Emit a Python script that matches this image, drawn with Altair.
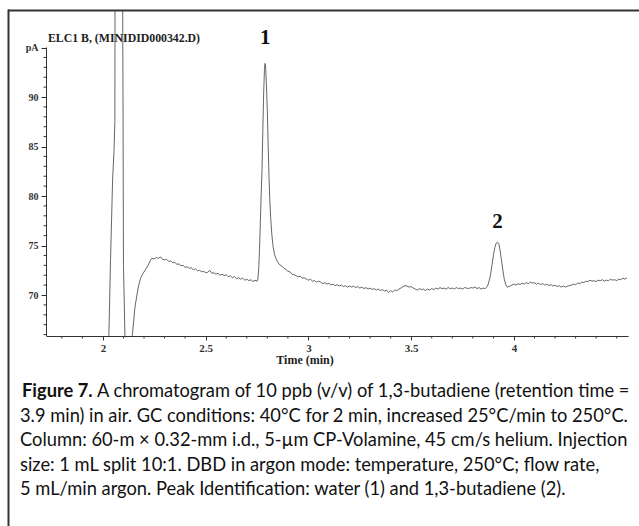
import altair as alt
import pandas as pd

# ---------------- data ----------------
# early (solvent/air) peak, off-scale
time_a = [2.022, 2.029, 2.037, 2.047, 2.054, 2.058, 2.059, 2.060, 2.094, 2.096,
          2.098, 2.099, 2.100, 2.104, 2.107, 2.112, 2.135, 2.143, 2.156, 2.172,
          2.183, 2.196, 2.208, 2.220, 2.230, 2.237]
signal_a = [60.0, 65.9, 73.5, 81.6, 84.6, 87.5, 100.0, 110.0, 110.0, 100.0,
            88.0, 80.0, 73.0, 69.0, 65.9, 60.0, 60.0, 65.9, 68.8, 70.8,
            71.7, 72.2, 72.6, 73.0, 73.45, 73.7]

# baseline before peak 1
time_b = [2.25, 2.26, 2.27, 2.28, 2.29, 2.30, 2.31, 2.32, 2.33, 2.34,
          2.35, 2.36, 2.37, 2.38, 2.39, 2.40, 2.41, 2.42, 2.43, 2.44,
          2.45, 2.46, 2.47, 2.48, 2.49, 2.50, 2.51, 2.52, 2.53, 2.54,
          2.55, 2.56, 2.57, 2.58, 2.59, 2.60, 2.61, 2.62, 2.63, 2.64,
          2.65, 2.66, 2.67, 2.68, 2.69, 2.70, 2.71, 2.72, 2.73, 2.74, 2.75]
signal_b = [73.65, 73.8, 73.7, 73.85, 73.6, 73.55, 73.6, 73.4, 73.45, 73.25,
            73.3, 73.1, 73.15, 72.95, 73.0, 72.8, 72.85, 72.7, 72.75, 72.55,
            72.65, 72.45, 72.5, 72.35, 72.4, 72.25, 72.3, 72.5, 72.2, 72.25,
            72.1, 72.2, 72.0, 72.1, 71.95, 72.05, 71.85, 71.95, 71.75, 71.85,
            71.65, 71.75, 71.6, 71.7, 71.5, 71.6, 71.45, 71.55, 71.35, 71.5, 71.4]

# peak 1 (water) and its tail
time_c = [2.754, 2.758, 2.762, 2.766, 2.770, 2.774, 2.778, 2.782, 2.786, 2.789,
          2.792, 2.796, 2.800, 2.804, 2.808, 2.812, 2.816, 2.822, 2.828, 2.835,
          2.842, 2.85, 2.86, 2.87, 2.88, 2.89, 2.90, 2.91, 2.92, 2.93,
          2.94, 2.95, 2.96, 2.97, 2.98, 2.99, 3.00, 3.01, 3.02, 3.03, 3.04, 3.05]
signal_c = [71.6, 72.6, 74.6, 77.3, 80.2, 82.5, 86.5, 90.3, 92.8, 93.4,
            92.9, 91.0, 88.6, 85.2, 82.0, 79.6, 77.9, 76.1, 74.9, 74.1,
            73.7, 73.35, 73.05, 72.95, 72.7, 72.6, 72.4, 72.35, 72.1, 72.05,
            71.95, 71.85, 71.9, 71.7, 71.75, 71.6, 71.5, 71.6, 71.4, 71.45, 71.3, 71.4]

# baseline between peaks
time_d = [3.06, 3.07, 3.08, 3.09, 3.10, 3.11, 3.12, 3.13, 3.14, 3.15,
          3.16, 3.17, 3.18, 3.19, 3.20, 3.21, 3.22, 3.23, 3.24, 3.25,
          3.26, 3.27, 3.28, 3.29, 3.30, 3.31, 3.32, 3.33, 3.34, 3.35,
          3.36, 3.37, 3.38, 3.39, 3.40, 3.41, 3.42, 3.43, 3.44, 3.45,
          3.46, 3.47, 3.48, 3.49, 3.50, 3.51, 3.52, 3.53, 3.54, 3.55,
          3.56, 3.57, 3.58, 3.59, 3.60, 3.61, 3.62, 3.63, 3.64, 3.65,
          3.66, 3.67, 3.68, 3.69, 3.70, 3.71, 3.72, 3.73, 3.74, 3.75,
          3.76, 3.77, 3.78, 3.79, 3.80, 3.81, 3.82, 3.83, 3.84, 3.85, 3.86, 3.87]
signal_d = [71.3, 71.15, 71.25, 71.1, 71.2, 71.0, 71.1, 70.95, 71.05, 70.9,
            71.0, 70.85, 70.95, 70.8, 70.9, 70.8, 70.9, 70.75, 70.85, 70.7,
            70.8, 70.65, 70.75, 70.6, 70.7, 70.55, 70.65, 70.5, 70.6, 70.45,
            70.55, 70.4, 70.5, 70.25, 70.45, 70.3, 70.5, 70.45, 70.6, 70.7,
            70.85, 70.95, 70.9, 70.8, 70.85, 70.7, 70.6, 70.5, 70.65, 70.55,
            70.6, 70.45, 70.6, 70.5, 70.65, 70.55, 70.7, 70.6, 70.75, 70.65,
            70.7, 70.6, 70.75, 70.65, 70.7, 70.6, 70.75, 70.65, 70.7, 70.6,
            70.75, 70.7, 70.65, 70.75, 70.7, 70.8, 70.65, 70.75, 70.6, 70.7, 70.65, 70.85]

# peak 2 (1,3-butadiene)
time_e = [3.875, 3.885, 3.893, 3.900, 3.907, 3.914, 3.920, 3.926, 3.932, 3.939,
          3.946, 3.953, 3.960, 3.967, 3.975, 3.985]
signal_e = [71.1, 71.9, 73.0, 74.0, 74.8, 75.25, 75.35, 75.2, 74.6, 73.6,
            72.5, 71.6, 71.05, 70.8, 70.85, 70.95]

# baseline after peak 2
time_f = [3.99, 4.00, 4.01, 4.02, 4.03, 4.04, 4.05, 4.06, 4.07, 4.08,
          4.09, 4.10, 4.11, 4.12, 4.13, 4.14, 4.15, 4.16, 4.17, 4.18,
          4.19, 4.20, 4.21, 4.22, 4.23, 4.24, 4.25, 4.26, 4.27, 4.28,
          4.29, 4.30, 4.31, 4.32, 4.33, 4.34, 4.35, 4.36, 4.37, 4.38,
          4.39, 4.40, 4.41, 4.42, 4.43, 4.44, 4.45, 4.46, 4.47, 4.48,
          4.49, 4.50, 4.51, 4.52, 4.53, 4.54, 4.55]
signal_f = [71.0, 71.1, 71.0, 71.15, 71.05, 71.2, 71.1, 71.25, 71.15, 71.3,
            71.2, 71.25, 71.1, 71.2, 71.05, 71.15, 71.0, 71.1, 70.95, 71.05,
            70.9, 71.0, 70.85, 70.95, 70.8, 70.9, 70.8, 70.9, 70.95, 71.0,
            71.1, 71.05, 71.2, 71.15, 71.3, 71.25, 71.4, 71.35, 71.5, 71.4,
            71.45, 71.35, 71.5, 71.45, 71.55, 71.4, 71.5, 71.45, 71.6, 71.5,
            71.55, 71.45, 71.6, 71.55, 71.7, 71.6, 71.75]

time_min = time_a + time_b + time_c + time_d + time_e + time_f
signal_pa = signal_a + signal_b + signal_c + signal_d + signal_e + signal_f

x_major = [2, 2.5, 3, 3.5, 4]
x_minor = [1.8, 1.9, 2.1, 2.2, 2.3, 2.4, 2.6, 2.7, 2.8, 2.9, 3.1, 3.2, 3.3, 3.4,
           3.6, 3.7, 3.8, 3.9, 4.1, 4.2, 4.3, 4.4, 4.5]
y_major = [70, 75, 80, 85, 90, 95]
y_minor = [66, 67, 68, 69, 71, 72, 73, 74, 76, 77, 78, 79, 81, 82, 83, 84,
           86, 87, 88, 89, 91, 92, 93, 94]

peak_times = [2.79, 3.92]
peak_label_y = [95.95, 77.4]
peak_names = ["1", "2"]

signal_title = "ELC1 B, (MINIDID000342.D)"
x_title = "Time (min)"
caption_bold = "Figure 7."
caption_lines = [
    "A chromatogram of 10 ppb (v/v) of 1,3-butadiene (retention time =",
    "3.9 min) in air. GC conditions: 40°C for 2 min, increased 25°C/min to 250°C.",
    "Column: 60-m × 0.32-mm i.d., 5-µm CP-Volamine, 45 cm/s helium. Injection",
    "size: 1 mL split 10:1. DBD in argon mode: temperature, 250°C; flow rate,",
    "5 mL/min argon. Peak Identification: water (1) and 1,3-butadiene (2).",
]

# ---------------- chart ----------------
W, H = 582, 325
X_DOMAIN = [1.723, 4.555]
Y_DOMAIN = [65.86, 98.69]
SERIF = "Liberation Serif"
SANS = "Lato"
AX = "#333333"

df = pd.DataFrame({"t": time_min, "s": signal_pa})
one = pd.DataFrame({"d": [0]})

xs = alt.Scale(domain=X_DOMAIN, nice=False, zero=False)
ys = alt.Scale(domain=Y_DOMAIN, nice=False, zero=False)

x_axis = alt.Axis(values=x_major, format="~g", tickSize=4, tickColor=AX, domainColor=AX,
                  labelFont=SERIF, labelFontWeight="bold", labelFontSize=11,
                  labelColor=AX, labelPadding=2, grid=False, title=None,
                  domainWidth=1, tickWidth=1)
y_axis = alt.Axis(values=y_major, labelExpr="datum.value == 95 ? 'pA' : datum.label",
                  domain=False, tickSize=5, tickColor=AX, labelFont=SERIF,
                  labelFontWeight="bold", labelFontSize=10, labelColor=AX,
                  labelPadding=3, grid=False, title=None, tickWidth=1)

trace = alt.Chart(df).mark_line(clip=True, color="#555555", strokeWidth=0.9).encode(
    x=alt.X("t:Q", scale=xs, axis=x_axis),
    y=alt.Y("s:Q", scale=ys, axis=y_axis),
)

xminor = alt.Chart(pd.DataFrame({"t": x_minor})).mark_rule(color=AX, strokeWidth=1).encode(
    x=alt.X("t:Q", scale=xs), y=alt.value(H), y2=alt.value(H + 2.5))
yminor = alt.Chart(pd.DataFrame({"s": y_minor})).mark_rule(color=AX, strokeWidth=1).encode(
    y=alt.Y("s:Q", scale=ys), x=alt.value(0), x2=alt.value(-2.5))
yline = alt.Chart(one).mark_rule(color=AX, strokeWidth=1).encode(
    x=alt.value(0.5), y=alt.value(36.5), y2=alt.value(H))

peaks = alt.Chart(pd.DataFrame({"t": peak_times, "s": peak_label_y, "n": peak_names})).mark_text(
    font=SERIF, fontWeight="bold", fontSize=21, color="#111111", baseline="middle", align="center"
).encode(x=alt.X("t:Q", scale=xs), y=alt.Y("s:Q", scale=ys), text="n:N")

title_txt = alt.Chart(one).mark_text(font=SERIF, fontWeight="bold", fontSize=11.8, color="#222222",
                                     align="left", baseline="middle").encode(
    x=alt.value(2), y=alt.value(27), text=alt.value(signal_title))
xtitle_txt = alt.Chart(one).mark_text(font=SERIF, fontWeight="bold", fontSize=12, color="#222222",
                                      align="center", baseline="middle").encode(
    x=alt.value(259), y=alt.value(349), text=alt.value(x_title))

# frame lines (top and left)
frame_top = alt.Chart(one).mark_rule(color="#333333", strokeWidth=2).encode(
    x=alt.value(-38), x2=alt.value(600), y=alt.value(-0.5))
frame_left = alt.Chart(one).mark_rule(color="#333333", strokeWidth=2).encode(
    x=alt.value(-37.5), y=alt.value(-1.5), y2=alt.value(520))

# caption
cap_layers = []
base_y = [386, 410.5, 435, 459.5, 484]
CAP_SIZE = 18.3
cap_layers.append(alt.Chart(one).mark_text(font=SANS, fontWeight="bold", fontSize=CAP_SIZE,
                                           color="#111111", align="left", baseline="alphabetic").encode(
    x=alt.value(-24), y=alt.value(base_y[0]), text=alt.value(caption_bold)))
for i, line in enumerate(caption_lines):
    cap_layers.append(alt.Chart(one).mark_text(font=SANS, fontSize=CAP_SIZE, color="#111111",
                                               align="left", baseline="alphabetic").encode(
        x=alt.value(51 if i == 0 else -26), y=alt.value(base_y[i]), text=alt.value(line)))

chart = alt.layer(
    trace, xminor, yminor, yline, peaks, title_txt, xtitle_txt, frame_top, frame_left, *cap_layers
).properties(
    width=W, height=H,
    autosize=alt.AutoSizeParams(type="none"),
    padding={"left": 46, "top": 11, "right": 11, "bottom": 190},
    background="white",
).configure_view(stroke=None)

chart.save("out.html", embed_options={"renderer": "svg", "actions": False})
